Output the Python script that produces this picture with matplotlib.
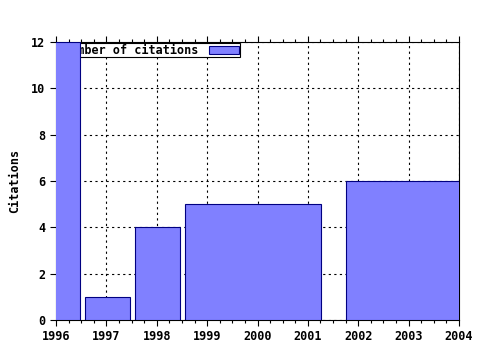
import matplotlib
matplotlib.use("Agg")
import matplotlib.pyplot as plt
from matplotlib.ticker import MultipleLocator

# bars as drawn: left edge, right edge, number of citations
bar_left = [1995.50, 1996.58, 1997.57, 1998.56, 2001.75]
bar_right = [1996.48, 1997.47, 1998.46, 2001.26, 2004.70]
citations = [12, 1, 4, 5, 6]

year_ticks = [1996, 1997, 1998, 1999, 2000, 2001, 2002, 2003, 2004]
cit_ticks = [0, 2, 4, 6, 8, 10, 12]

plt.rcParams['font.family'] = ['DejaVu Sans Mono']
plt.rcParams['font.weight'] = 'bold'

fig = plt.figure(figsize=(4.8, 3.5), dpi=100)
ax = fig.add_axes([56 / 480, 1 - 320 / 350, (459 - 56) / 480, (320 - 42) / 350])

widths = [r - l for l, r in zip(bar_left, bar_right)]
ax.bar(bar_left, citations, width=widths, align='edge', color='#8080ff',
       edgecolor='#000080', linewidth=0.8, zorder=3, label='Number of citations')

ax.set_xlim(1996, 2004)
ax.set_ylim(0, 12)
ax.set_xticks(year_ticks)
ax.set_yticks(cit_ticks)
ax.xaxis.set_minor_locator(MultipleLocator(0.25))

ax.grid(True, which='major', color='black', linestyle=(0, (2, 3)), linewidth=0.8)
ax.set_axisbelow(True)

ax.tick_params(axis='x', which='both', direction='out', top=True, labelsize=8.5)
ax.tick_params(axis='x', which='major', length=4, width=0.8)
ax.tick_params(axis='x', which='minor', length=2, width=0.8)
ax.tick_params(axis='y', which='major', direction='out', length=4, width=0.8,
               right=False, labelsize=8.5)
for s in ax.spines.values():
    s.set_linewidth(0.8)

ax.set_ylabel('Citations', fontsize=8.5, fontweight='bold', labelpad=7)

leg = ax.legend(loc='upper left', bbox_to_anchor=(0.012, 1.0), markerfirst=False,
                fancybox=False, framealpha=1, edgecolor='black', fontsize=8.5,
                borderpad=0.05, handlelength=2.6, handleheight=0.7,
                handletextpad=0.9, borderaxespad=0.1)
leg.get_frame().set_linewidth(0.8)
leg.set_zorder(2)

fig.savefig('out.png', dpi=100)
